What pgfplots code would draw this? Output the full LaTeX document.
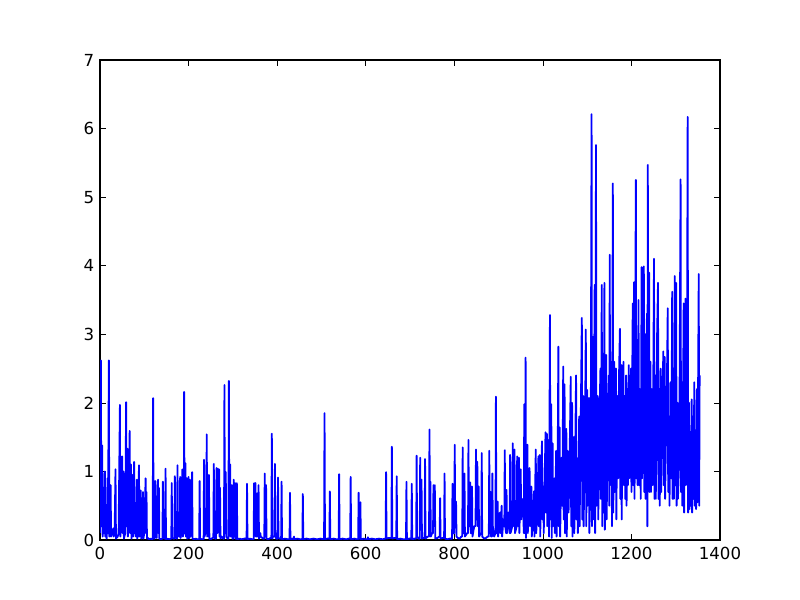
\documentclass[border=0pt]{standalone}
\usepackage{fontspec}
\setmainfont{DejaVu Sans}
\usepackage{pgfplots}
\pgfplotsset{compat=1.18}
\begin{document}
\fontsize{16.67}{20}\selectfont
\begin{tikzpicture}
\begin{axis}[
  at={(0,0)}, anchor=south west,
  width=620bp, height=480bp, scale only axis,
  xmin=0, xmax=1400, ymin=0, ymax=7,
  xtick={0,200,...,1400}, ytick={0,1,...,7},
  tick align=inside, tick pos=both,
  major tick length=5.6bp,
  axis line style={line width=1.39bp},
  every tick/.style={black, line width=0.7bp},
  /pgf/number format/1000 sep={},
  /pgf/number format/assume math mode=true,
  ticklabel style={font=\fontsize{16.67}{20}\selectfont},
  xticklabel style={yshift=-1bp},
]
\addplot[color={rgb,1:red,0;green,0;blue,1}, line width=1.8bp, line join=round] coordinates {
(0,0.1)(2,2.62)(3,0.2)(5,1.38)(6,0.05)(8,0.6)(9,0.1)(11,1.0)(12,0.05)(14,0.5)(15,0.02)(17,0.9)(18,0.1)(20,2.62)(21,0.05)(23,0.4)(24,0.8)(25,0.05)(28,0.1)(30,0.17)(31,0.05)(33,0.1)(35,1.03)(36,0.02)(40,0.05)(42,0.1)(45,1.97)(46,0.05)(48,0.3)(50,1.22)(51,0.1)(53,1.0)(54,0.02)(57,0.1)(59,2.01)(60,0.2)(62,1.33)(63,0.05)(65,0.4)(67,1.59)(68,0.1)(70,1.1)(71,0.02)(73,0.3)(74,0.95)(75,0.05)(77,1.14)(78,0.1)(80,0.2)(81,0.05)(83,0.88)(84,0.02)(86,0.1)(88,1.09)(89,0.05)(91,0.2)(92,0.72)(93,0.02)(96,0.1)(97,0.7)(98,0.02)(100,0.1)(103,0.9)(104,0.1)(105,0.7)(106,0.02)(108,0.03)(110,0.01)(114,0.02)(118,0.01)
(119,0.01)(120,2.07)(121,0.05)(123,0.02)(125,0.86)(126,0.05)(128,0.03)(131,0.88)(132,0.1)(133,0.76)(134,0.02)(138,0.01)(141,0.02)(142,0.85)(143,0.03)(146,0.02)(147,0.02)(148,1.04)(149,0.01)(152,0.02)(156,0.01)(161,0.02)(162,0.83)(163,0.03)(166,0.02)(168,0.02)(169,0.93)(170,0.05)(173,0.02)(174,0.02)(175,1.09)(176,0.1)(178,0.05)(180,0.05)(181,0.92)(182,0.03)(184,0.1)(185,0.1)(186,1.03)(187,0.05)(189,0.1)(190,2.16)(191,0.1)(192,0.1)(193,1.12)(194,0.05)(195,0.05)(196,0.9)(197,0.02)(199,0.1)(200,0.92)(201,0.03)(202,0.03)(203,0.88)(204,0.05)(206,0.1)(207,0.1)(208,0.99)(209,0.02)(212,0.01)(216,0.02)(220,0.01)(224,0.01)(225,0.86)(226,0.02)(230,0.01)(234,0.01)(235,1.17)(236,0.05)(238,0.1)(240,0.1)(241,1.54)(242,0.05)(244,0.1)(245,0.1)(246,0.95)(247,0.02)(250,0.01)(254,0.03)(256,0.03)(257,1.11)(258,0.05)(260,0.02)(262,0.02)(263,1.05)(264,0.1)(265,0.1)(266,1.04)(267,0.2)(268,0.2)(269,1.03)(270,0.05)(271,0.76)(272,0.02)(275,0.05)(278,0.02)(280,0.02)(281,2.26)(282,0.1)(283,0.1)(284,0.99)(285,0.05)(288,0.02)(290,0.02)(291,2.32)(292,0.1)(293,0.1)(294,1.1)(295,0.05)(297,0.05)(298,0.8)(299,0.02)(301,0.02)(302,0.88)(303,0.05)(304,0.05)(305,0.83)(306,0.02)(308,0.02)(309,0.83)(310,0.01)(315,0.02)(320,0.01)(326,0.02)(331,0.02)(332,0.82)(333,0.01)(338,0.02)(344,0.01)
(347,0.01)(348,0.83)(349,0.1)(350,0.1)(351,0.83)(352,0.05)(354,0.05)(355,0.68)(356,0.05)(357,0.05)(358,0.8)(359,0.02)(362,0.1)(363,0.05)(368,0.02)(371,0.02)(372,0.97)(373,0.05)(374,0.05)(375,0.8)(376,0.02)(380,0.01)(385,0.03)(387,0.03)(388,1.55)(389,0.02)(391,0.05)(394,0.05)(395,1.11)(396,0.05)(398,0.02)(401,0.02)(402,0.91)(403,0.03)(406,0.02)(409,0.02)(410,0.85)(411,0.01)(418,0.02)(424,0.01)(428,0.01)(429,0.69)(430,0.01)(434,0.02)(437,0.01)(438,0.05)(439,0.01)(446,0.02)(452,0.01)(457,0.01)(458,0.67)(459,0.01)(466,0.02)(474,0.01)(482,0.02)(490,0.01)(498,0.02)(505,0.01)(506,0.01)(507,1.85)(508,0.01)(513,0.02)(518,0.02)(519,0.71)(520,0.01)(528,0.02)(534,0.01)(539,0.01)(540,0.96)(541,0.01)(548,0.02)(556,0.01)(562,0.02)(565,0.02)(566,0.92)(567,0.01)(575,0.02)(580,0.01)(583,0.01)(584,0.69)(585,0.02)(587,0.02)(588,0.55)(589,0.01)(596,0.02)(600,0.01)(604,0.01)(605,0.04)(606,0.01)(614,0.02)(622,0.01)(630,0.02)(638,0.01)(644,0.02)(645,0.02)(646,0.99)(647,0.02)(652,0.03)(658,0.03)(659,1.36)(660,0.02)(665,0.03)(669,0.03)(670,0.93)(671,0.01)(678,0.02)(685,0.01)
(691,0.01)(692,0.85)(693,0.01)(698,0.02)(703,0.02)(704,0.82)(705,0.01)(710,0.02)(714,0.02)(715,1.23)(716,0.05)(719,0.02)(722,0.02)(723,1.2)(724,0.2)(725,0.2)(726,0.88)(727,0.02)(730,0.03)(733,0.03)(734,1.18)(735,0.02)(740,0.05)(743,0.05)(744,1.61)(745,0.1)(746,0.85)(747,0.05)(750,0.1)(752,0.1)(753,0.8)(754,0.3)(755,0.3)(756,0.8)(757,0.02)(762,0.03)(766,0.05)(767,0.05)(768,0.61)(769,0.02)(774,0.03)(777,0.03)(778,0.97)(779,0.02)(784,0.01)(790,0.02)(795,0.02)(796,0.82)(797,0.1)(800,0.1)(801,1.39)(802,0.3)(803,0.3)(804,0.56)(805,0.05)(808,0.03)(812,0.02)(816,0.05)(818,0.05)(819,1.35)(820,0.1)(822,0.1)(823,0.97)(824,0.05)(829,0.1)(831,0.1)(832,1.46)(833,0.2)(835,0.2)(836,0.84)(837,0.1)(839,0.1)(840,0.78)(841,0.05)(845,0.2)(848,0.2)(849,1.32)(850,0.3)(851,0.3)(852,1.14)(853,0.2)(854,0.2)(855,0.78)(856,0.05)(860,0.1)(861,0.1)(862,1.27)(863,0.05)(866,0.03)(870,0.02)(875,0.05)(878,0.05)(879,1.3)(880,0.1)(881,0.1)(882,0.7)(883,0.05)(885,0.05)(886,0.97)(887,0.2)(890,0.05)(893,0.1)(894,2.09)(895,0.1)(897,0.1)(898,0.56)(899,0.05)(903,0.4)(904,0.1)(907,0.5)(908,0.05)(911,0.3)(913,0.2)(914,1.31)(915,0.2)(917,0.1)(918,0.73)(919,0.1)(922,0.4)(925,0.1)(926,1.24)(927,0.1)(931,0.2)(932,1.41)(933,0.3)(935,0.2)(936,1.32)(937,0.1)(941,0.2)(942,1.22)(943,0.3)(945,0.2)(946,1.2)(947,0.1)(950,1.03)(951,0.3)(955,0.6)(957,0.1)(958,1.98)(959,0.1)(960,0.3)(961,2.66)(962,0.03)(965,1.39)(966,0.1)(970,1.05)(971,0.2)(974,0.78)(975,0.05)(978,0.4)(980,0.71)(981,0.05)(984,1.32)(985,0.1)(988,0.5)(990,1.22)(991,0.2)(993,1.24)(994,0.05)(998,1.44)(999,0.3)
(1001,0.78)(1002,0.1)(1006,1.57)(1007,0.4)(1009,1.55)(1010,0.2)(1013,1.46)(1014,0.05)(1016,3.28)(1017,0.3)(1019,1.98)(1020,0.03)(1022,1.41)(1023,0.2)(1026,0.9)(1027,0.1)(1030,1.3)(1031,0.05)(1033,0.6)(1035,2.82)(1036,0.2)(1038,1.64)(1039,0.05)(1042,1.2)(1044,0.5)(1046,2.53)(1047,0.3)(1049,2.27)(1050,0.1)(1053,1.62)(1054,0.05)(1056,1.3)(1058,0.4)(1060,1.0)(1063,2.38)(1064,0.2)(1066,2.0)(1067,0.05)(1070,1.5)(1071,0.1)(1075,2.4)(1076,0.3)(1078,1.19)(1079,0.1)(1082,1.8)(1083,0.2)(1086,2.0)(1088,3.24)(1089,0.3)(1091,2.1)(1092,0.2)(1095,1.5)(1097,3.07)(1098,0.2)(1100,2.19)(1101,0.5)(1104,2.07)(1105,0.1)(1108,1.0)(1110,6.21)(1111,0.2)(1113,2.96)(1114,0.3)(1117,3.72)(1118,0.1)(1120,5.76)(1121,0.5)(1124,2.1)(1125,0.3)(1128,1.8)(1130,2.5)(1131,0.6)(1133,3.72)(1134,0.2)(1136,2.7)(1137,0.4)(1139,3.75)(1140,0.15)(1143,2.7)(1144,0.3)(1147,1.9)(1149,2.4)(1150,0.5)(1151,4.16)(1152,0.8)(1155,2.6)(1156,0.2)(1158,5.2)(1159,0.4)(1161,2.6)(1162,0.7)(1165,2.5)(1166,0.3)(1168,2.1)(1170,0.9)(1172,2.4)(1174,3.08)(1175,0.6)(1177,2.55)(1178,0.3)(1180,2.0)(1182,2.6)(1183,0.8)(1185,2.1)(1186,0.6)(1188,2.4)(1189,0.5)(1191,2.2)(1192,0.8)(1194,2.55)(1195,0.9)(1197,1.6)(1199,2.5)
(1200,0.7)(1203,3.45)(1204,0.8)(1206,3.76)(1207,0.6)(1210,5.25)(1211,0.9)(1213,2.5)(1214,0.8)(1216,3.5)(1217,0.8)(1219,2.2)(1221,0.6)(1223,3.98)(1224,0.9)(1226,2.5)(1228,3.99)(1229,0.7)(1231,3.0)(1232,0.6)(1235,3.3)(1236,0.2)(1237,5.47)(1238,0.9)(1240,3.9)(1241,0.7)(1243,2.6)(1244,0.7)(1246,2.2)(1248,0.8)(1251,4.1)(1252,0.6)(1254,2.4)(1255,0.6)(1258,3.0)(1260,3.75)(1261,0.6)(1263,2.2)(1264,0.5)(1266,2.5)(1267,0.7)(1270,2.0)(1272,2.75)(1273,0.8)(1275,2.67)(1276,0.6)(1278,1.5)(1280,2.2)(1282,3.38)(1283,0.7)(1285,1.8)(1286,0.5)(1288,2.3)(1290,0.9)(1292,3.62)(1293,0.6)(1295,2.5)(1296,0.6)(1298,3.85)(1299,0.8)(1301,3.75)(1302,0.5)(1304,2.0)(1305,0.6)(1308,1.2)(1311,5.26)(1312,0.7)(1314,2.3)(1315,0.5)(1318,3.45)(1319,0.4)(1322,3.52)(1323,0.8)(1325,1.5)(1327,6.17)(1328,0.4)(1330,2.0)(1331,0.45)(1333,1.5)(1334,0.5)(1336,2.05)(1337,0.4)(1339,1.8)(1340,0.6)(1342,2.3)(1343,0.5)(1345,1.6)(1346,0.45)(1348,2.2)(1349,0.55)(1352,3.88)(1353,0.5)(1354,2.4)
};
\end{axis}
\pgfresetboundingbox
\path (-100bp,-60bp) rectangle (700bp,540bp);
\end{tikzpicture}
\end{document}
